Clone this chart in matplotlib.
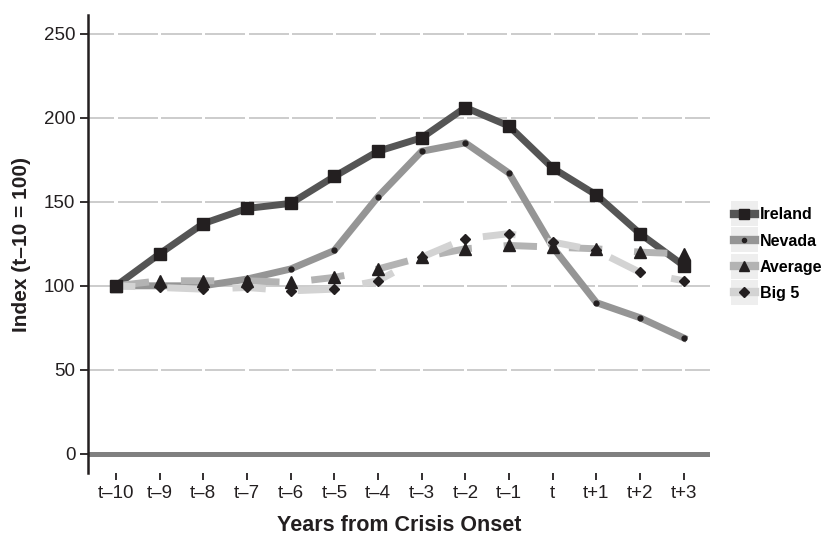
import matplotlib
matplotlib.use("Agg")
import matplotlib.pyplot as plt
from matplotlib.lines import Line2D
from matplotlib.patches import Rectangle
from matplotlib.legend_handler import HandlerLine2D
import numpy as np

# data
periods = ["t\u201310", "t\u20139", "t\u20138", "t\u20137", "t\u20136", "t\u20135", "t\u20134",
           "t\u20133", "t\u20132", "t\u20131", "t", "t+1", "t+2", "t+3"]
ireland = [100, 119, 137, 146, 149, 165, 180, 188, 206, 195, 170, 154, 131, 112]
nevada = [100, 100, 100, 104, 110, 121, 153, 180, 185, 167, 123, 90, 81, 69]
average = [100, 103, 103, 103, 102, 105, 110, 117, 122, 124, 123, 122, 120, 119]
big5 = [100, 99, 98, 99, 97, 98, 103, 117, 128, 131, 126, 121, 108, 103]
y_ticks = [0, 50, 100, 150, 200, 250]

plt.rcParams["font.family"] = ["Liberation Sans", "DejaVu Sans"]
INK = "#231f20"


class BoxedHandler(HandlerLine2D):
    # legend key drawn on a pale grey tile, as in the source chart
    def create_artists(self, legend, orig_handle, xdescent, ydescent,
                       width, height, fontsize, trans):
        arts = super().create_artists(legend, orig_handle, xdescent, ydescent,
                                      width, height, fontsize, trans)
        tile = Rectangle((-xdescent - 2, -ydescent - 5), width + 4, height + 10,
                         facecolor="#eeeeee", edgecolor="none", transform=trans)
        return [tile] + arts


fig = plt.figure(figsize=(8.26, 5.35), dpi=100)
ax = fig.add_axes([0.1065, 0.1159, 0.753, 0.856])
x = np.arange(len(periods))

# dashed grid, broken at each category
for yv in y_ticks[1:]:
    for i in range(-1, len(periods)):
        ax.plot([i + 0.04, i + 0.96], [yv, yv], color="#c4c4c4", lw=1.2,
                solid_capstyle="butt", zorder=1)
ax.axhline(0, color="#808080", lw=3.6, zorder=2)

series = [
    ("Ireland", ireland, "#555555", "-", "s", 8, 3),
    ("Nevada", nevada, "#959595", "-", "o", 3.5, 4),
    ("Average", average, "#b3b3b3", (0, (4.8, 4.6)), "^", 9, 5),
    ("Big 5", big5, "#d3d3d3", (2.0, (4.8, 4.6)), "D", 5.5, 6),
]
handles = []
for name, vals, col, ls, mk, ms, z in series:
    ax.plot(x, vals, color=col, lw=5, ls=ls, solid_joinstyle="miter",
            dash_capstyle="butt", zorder=z)
    ax.plot(x, vals, ls="none", marker=mk, ms=ms, color=INK, zorder=10)
    handles.append(Line2D([], [], color=col, lw=6, marker=mk, ms=ms * 0.85,
                          mfc=INK, mec=INK, label=name))

ax.set_xlim(-0.64, 13.6)
ax.set_ylim(-11.3, 261)
ax.set_xticks(x)
ax.set_xticklabels(periods, fontsize=13.5, color=INK)
ax.set_yticks(y_ticks)
ax.set_yticklabels([str(v) for v in y_ticks], fontsize=13.5, color=INK)
ax.tick_params(axis="y", direction="out", length=6, width=1.3, color=INK, pad=3)
ax.tick_params(axis="x", direction="out", length=5, width=1.3, color=INK, pad=4)

for s in ["top", "right", "bottom"]:
    ax.spines[s].set_visible(False)
ax.spines["left"].set_color(INK)
ax.spines["left"].set_linewidth(1.8)

ax.set_xlabel("Years from Crisis Onset", fontsize=15.5, fontweight="bold",
              color=INK, labelpad=9)
ax.set_ylabel("Index (t\u201310 = 100)", fontsize=15, fontweight="bold",
              color=INK, labelpad=9)

fig.legend(handles=handles, loc="center left", bbox_to_anchor=(734 / 826, 0.525),
           frameon=False, borderpad=0, borderaxespad=0,
           handlelength=1.3, handletextpad=0.3,
           labelspacing=0.7, prop={"weight": "bold", "size": 11.5},
           handler_map={Line2D: BoxedHandler()})

fig.savefig("out.png", dpi=100)
